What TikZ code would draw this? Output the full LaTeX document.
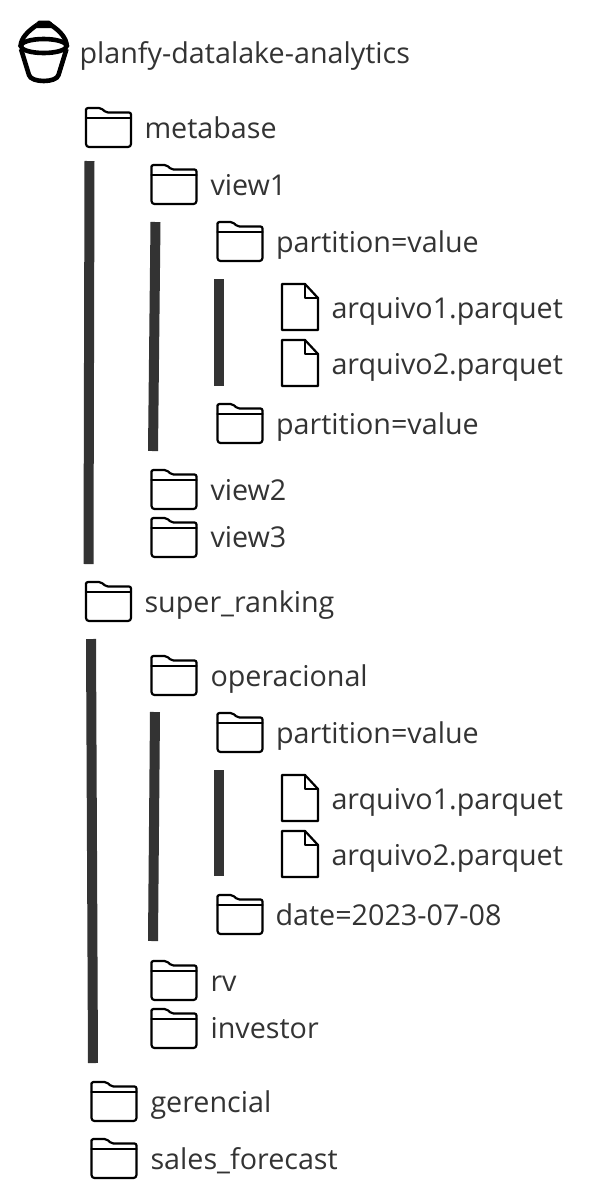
\documentclass[tikz,border=0pt]{standalone}
\usepackage{fontspec}
\setmainfont{Open Sans}
\definecolor{barc}{HTML}{333333}
\definecolor{txt}{HTML}{333333}
\tikzset{
  x=1pt,y=-1pt,
  lab/.style={anchor=base west,inner sep=0pt,outer sep=0pt,text=txt,font=\fontsize{28.7}{28.7}\selectfont},
  bar/.style={draw=barc,line width=10pt},
  icon/.style={draw=black,line width=2.2pt,line join=round,line cap=round},
  folder/.pic={
    \draw[icon] (0,4) [rounded corners=2pt] -- (0,0) -- (15,0) -- (20,4.5) -- (45,4.5) [rounded corners=3pt] -- (45,39) -- (0,39) -- cycle;
    \draw[icon] (0,10) -- (45,10);
  },
  filepic/.pic={
    \draw[icon] (0,0) -- (23,0) -- (36,14) -- (36,46) -- (0,46) -- cycle;
    \draw[icon] (23,0) -- (23,14) -- (36,14);
  }
}
\begin{document}
\begin{tikzpicture}
\useasboundingbox (0,0) rectangle (589,1195);
% bucket
\fill[black,rounded corners=2pt] (35,28) -- (37,20.5) -- (51,20.5) -- (54,28) -- cycle;
\draw[black,line width=4.6pt] (20.6,46) .. controls (21,38) and (28,31) .. (37,25);
\draw[black,line width=4.6pt] (66.8,46) .. controls (66.4,38) and (60,31) .. (51,25);
\draw[black,line width=4.6pt] (43.7,46) ellipse [x radius=23pt,y radius=7pt];
\draw[black,line width=4.6pt,line join=round] (21,49) -- (29,75) .. controls (31,83) and (56.5,83) .. (58.5,75) -- (66.5,49);
\node[lab] (root) at (79.5,63) {planfy-datalake-analytics};
% bars
\coordinate (b1a) at (89.5,161); \coordinate (b1b) at (88.5,564);
\coordinate (b2a) at (155.5,222); \coordinate (b2b) at (153,451);
\coordinate (b3a) at (219,279); \coordinate (b3b) at (219,386);
\coordinate (b4a) at (91,639); \coordinate (b4b) at (93,1063);
\coordinate (b5a) at (155,712); \coordinate (b5b) at (153,941);
\coordinate (b6a) at (219,770); \coordinate (b6b) at (219,876);
\foreach \p in {1,...,6} \draw[bar] (b\p a) -- (b\p b);
% folders
\pic at (86,108) {folder}; \node[lab] (metabase) at (144.5,138) {metabase};
\pic at (151.5,165) {folder}; \node[lab] (view1) at (210.5,195) {view1};
\pic at (217.5,222) {folder}; \node[lab] (p1) at (276,252) {partition=value};
\pic at (282,284) {filepic}; \node[lab] (a1) at (331.5,318) {arquivo1.parquet};
\pic at (282,340) {filepic}; \node[lab] (a2) at (331.5,374) {arquivo2.parquet};
\pic at (217.5,404) {folder}; \node[lab] (p2) at (276,434.5) {partition=value};
\pic at (151.5,470) {folder}; \node[lab] (view2) at (210.5,500) {view2};
\pic at (151.5,518) {folder}; \node[lab] (view3) at (210.5,547.5) {view3};
\pic at (86,582) {folder}; \node[lab] (super) at (144.5,612) {super\_ranking};
\pic at (151.5,656) {folder}; \node[lab] (oper) at (210.5,686) {operacional};
\pic at (217.5,713) {folder}; \node[lab] (p3) at (276,743) {partition=value};
\pic at (282,775) {filepic}; \node[lab] (a3) at (331.5,809) {arquivo1.parquet};
\pic at (282,831) {filepic}; \node[lab] (a4) at (331.5,865) {arquivo2.parquet};
\pic at (217.5,895) {folder}; \node[lab] (date) at (275.5,925) {date=2023-07-08};
\pic at (151.5,961) {folder}; \node[lab] (rv) at (210.5,991) {rv};
\pic at (151.5,1009) {folder}; \node[lab] (inv) at (210.5,1038) {investor};
\pic at (91.5,1082) {folder}; \node[lab] (ger) at (150.5,1112) {gerencial};
\pic at (91.5,1139) {folder}; \node[lab] (sales) at (150.5,1169) {sales\_forecast};
\end{tikzpicture}
\end{document}
